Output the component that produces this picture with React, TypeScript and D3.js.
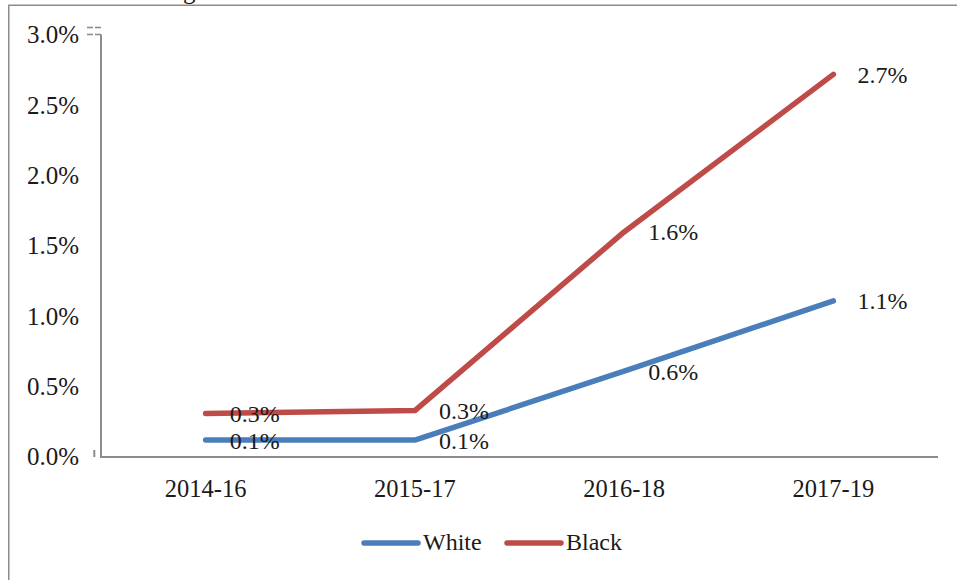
import React from "react";
import * as d3 from "d3";

// Three-year rolling periods
const periods: string[] = ["2014-16", "2015-17", "2016-18", "2017-19"];

// Rates per group, as fractions
const whiteRates: number[] = [0.0012, 0.0012, 0.0061, 0.0111];
const blackRates: number[] = [0.0031, 0.0033, 0.016, 0.0272];

const yTicks: number[] = [0, 0.005, 0.01, 0.015, 0.02, 0.025, 0.03];

const seriesNames: string[] = ["White", "Black"];
const seriesColors: string[] = ["#4a7ebb", "#be4b48"];

const W = 957;
const H = 580;
const FONT = "Liberation Serif, DejaVu Serif, serif";
const AXIS = "#8c8c8c";
const INK = "#1a1a1a";

export default function App() {
  const plotLeft = 101;
  const plotRight = 938;
  const plotTop = 35;
  const plotBottom = 457;

  const x = d3.scaleBand<string>().domain(periods).range([plotLeft, plotRight]);
  const y = d3.scaleLinear().domain([0, 0.03]).range([plotBottom, plotTop]);
  const cx = (p: string) => (x(p) as number) + x.bandwidth() / 2;

  const pct = d3.format(".1%");
  const series = [whiteRates, blackRates];

  const line = d3
    .line<number>()
    .x((_, i) => cx(periods[i]))
    .y((v) => y(v));

  const txt = { fontFamily: FONT } as React.CSSProperties;

  return (
    <svg
      width={W}
      height={H}
      style={{ position: "absolute", left: 0, top: 0, background: "#fff", fontFamily: FONT }}
    >
      {/* title descender peeking above the frame */}
      <text x={183} y={-1.5} fontSize={25} fill={INK} style={txt}>
        g
      </text>

      {/* chart frame */}
      <rect x={8.75} y={5.25} width={W + 20} height={H + 20} fill="none" stroke={AXIS} strokeWidth={1.5} />

      {/* small marks beside the value axis */}
      <g stroke={AXIS} strokeWidth={1.6}>
        <line x1={87} x2={93} y1={27.5} y2={27.5} />
        <line x1={95} x2={101} y1={27.5} y2={27.5} />
        <line x1={87} x2={93} y1={34.5} y2={34.5} />
        <line x1={95} x2={101} y1={34.5} y2={34.5} />
        <line x1={94.3} x2={94.3} y1={450} y2={457} strokeWidth={2} />
      </g>

      {/* axes */}
      <line x1={plotLeft} x2={plotLeft} y1={plotTop - 0.5} y2={plotBottom} stroke={AXIS} strokeWidth={2} />
      <line x1={plotLeft - 1} x2={plotRight} y1={plotBottom} y2={plotBottom} stroke={AXIS} strokeWidth={2} />

      {/* y tick labels */}
      {yTicks.map((t) => (
        <text
          key={t}
          x={79}
          y={y(t)}
          dy="0.33em"
          textAnchor="end"
          fontSize={25}
          fill={INK}
          style={txt}
        >
          {pct(t)}
        </text>
      ))}

      {/* x tick labels */}
      {periods.map((p) => (
        <text key={p} x={cx(p)} y={497} textAnchor="middle" fontSize={24.5} fill={INK} style={txt}>
          {p}
        </text>
      ))}

      {/* series lines */}
      {series.map((vals, si) => (
        <path
          key={seriesNames[si]}
          d={line(vals) || ""}
          fill="none"
          stroke={seriesColors[si]}
          strokeWidth={5.5}
          strokeLinecap="round"
          strokeLinejoin="round"
        />
      ))}

      {/* data labels */}
      {series.map((vals, si) =>
        vals.map((v, i) => (
          <text
            key={`${si}-${i}`}
            x={cx(periods[i]) + 24}
            y={y(v)}
            dy="0.35em"
            fontSize={24}
            fill={INK}
            style={txt}
          >
            {pct(v)}
          </text>
        ))
      )}

      {/* legend */}
      {seriesNames.map((name, i) => {
        const lx = i === 0 ? 364 : 507;
        return (
          <g key={name}>
            <line
              x1={lx}
              x2={lx + 54}
              y1={543}
              y2={543}
              stroke={seriesColors[i]}
              strokeWidth={5.5}
              strokeLinecap="round"
            />
            <text x={lx + 59} y={550} fontSize={24} fill={INK} style={txt}>
              {name}
            </text>
          </g>
        );
      })}
    </svg>
  );
}
